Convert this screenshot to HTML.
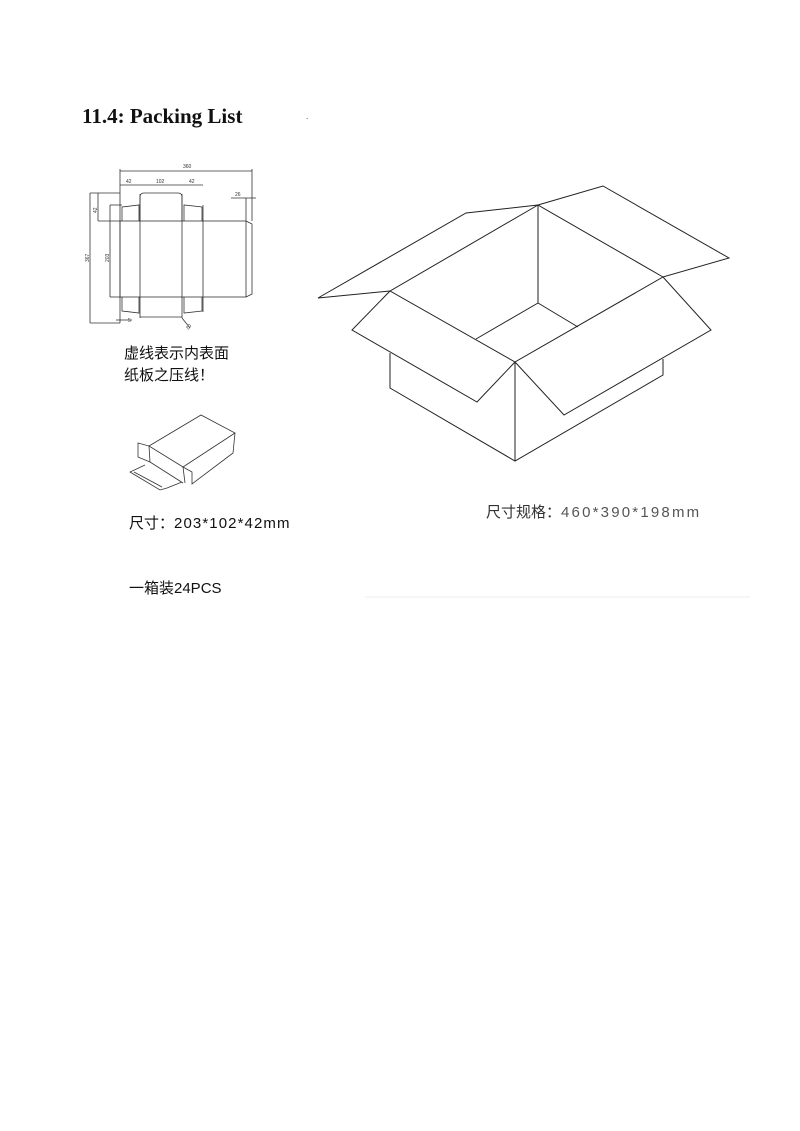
<!DOCTYPE html>
<html><head><meta charset="utf-8"><style>
html,body{margin:0;padding:0;background:#fff;width:800px;height:1131px;overflow:hidden;position:relative}
.t{position:absolute;white-space:nowrap;color:#111}
svg{position:absolute;left:0;top:0}
</style></head><body>
<div class="t" style="left:82px;top:104px;font:bold 21px 'Liberation Serif',serif;">11.4: Packing List</div>
<div class="t" style="left:306px;top:112px;font:8px 'Liberation Sans',sans-serif;">.</div>
<div class="t" style="left:124px;top:343px;font:15px 'Liberation Sans','Noto Sans CJK SC',sans-serif;line-height:22px;">虚线表示内表面<br>纸板之压线！</div>
<div class="t" style="left:129px;top:512px;font:15px 'Liberation Sans','Noto Sans CJK SC',sans-serif;">尺寸：<span style="letter-spacing:1.1px">203*102*42mm</span></div>
<div class="t" style="left:129px;top:577px;font:15px 'Liberation Sans','Noto Sans CJK SC',sans-serif;">一箱装24PCS</div>
<div class="t" style="left:486px;top:501px;font:15px 'Liberation Sans','Noto Sans CJK SC',sans-serif;color:#333;">尺寸规格：<span style="color:#555;letter-spacing:2.2px">460*390*198mm</span></div>
<svg width="800" height="1131" viewBox="0 0 800 1131" fill="none" stroke="#222" stroke-width="1">
<line x1="365" y1="597" x2="750" y2="597" stroke="#eee"/>
<!-- die-cut -->
<g stroke-width="0.8" stroke="#333">
<rect x="120" y="221" width="126" height="76"/>
<path d="M246 221 L252 224 L252 294 L246 297"/>
<line x1="140" y1="194" x2="140" y2="318"/>
<line x1="182" y1="194" x2="182" y2="318"/>
<line x1="203" y1="205" x2="203" y2="312"/>
<path d="M140 221 L140 197 Q140 193 144 193 L178 193 Q182 193 182 197 L182 221"/>
<path d="M122 221 L122 207 L139 205 L139 221"/>
<path d="M184 221 L184 205 L202 207 L202 221"/>
<path d="M122 297 L122 311 L139 313 L139 297"/>
<path d="M184 297 L184 313 L202 311 L202 297"/>
<line x1="140" y1="317" x2="182" y2="317"/>
<line x1="120" y1="171" x2="252" y2="171"/>
<line x1="120" y1="169" x2="120" y2="323"/>
<line x1="252" y1="169" x2="252" y2="221"/>
<line x1="120" y1="185" x2="203" y2="185"/>
<line x1="90" y1="193" x2="120" y2="193"/>
<line x1="90" y1="193" x2="90" y2="323"/>
<line x1="90" y1="323" x2="120" y2="323"/>
<line x1="98" y1="193" x2="98" y2="221"/>
<line x1="98" y1="221" x2="120" y2="221"/>
<line x1="110" y1="205" x2="110" y2="297"/>
<line x1="110" y1="205" x2="122" y2="205"/>
<line x1="110" y1="297" x2="120" y2="297"/>
<line x1="231" y1="198" x2="256" y2="198"/>
<line x1="246" y1="198" x2="246" y2="221"/>
<line x1="116" y1="320" x2="132" y2="320"/>
<line x1="182" y1="318" x2="190" y2="328"/>
</g>
<g font-family="Liberation Sans" font-size="5" fill="#333" stroke="none">
<text x="183" y="168">360</text><text x="126" y="183">42</text><text x="156" y="183">102</text><text x="189" y="183">42</text>
<text x="235" y="196">26</text>
<text transform="translate(89,262) rotate(-90)">367</text>
<text transform="translate(97,213) rotate(-90)">42</text>
<text transform="translate(109,262) rotate(-90)">203</text>
<text x="128" y="322">5</text>
<text transform="translate(188,330) rotate(-50)">20</text>
</g>
<!-- small box -->
<g stroke-width="0.8" stroke="#333">
<path d="M149 446 L201 415 L235 433 L183 467 Z"/>
<path d="M235 433 L233 453 L192 484 L192 472 L183 467"/>
<path d="M183 467 L185 483"/>
<path d="M138 443 L149 446 L150 462 L138 457 Z"/>
<path d="M150 462 L183 483"/>
<path d="M145 465 L130 472 L160 490 L167 488 L182 482"/>
<path d="M134 472 L162 487"/>
</g>
<!-- big box -->
<g stroke-width="1" stroke="#222">
<path d="M318 298 L466 213 L538 205 L390 291 Z"/>
<path d="M538 205 L603 186 L729 258 L663 277 Z"/>
<path d="M390 291 L352 330 L477 402 L515 362 Z"/>
<path d="M515 362 L564 415 L711 330 L663 277 Z"/>
<path d="M538 205 L538 303 L476 339 M538 303 L578 327"/>
<path d="M390 353 L390 388 L515 461 L663 375 L663 359"/>
<path d="M515 362 L515 461"/>
</g>
</svg>
</body></html>
